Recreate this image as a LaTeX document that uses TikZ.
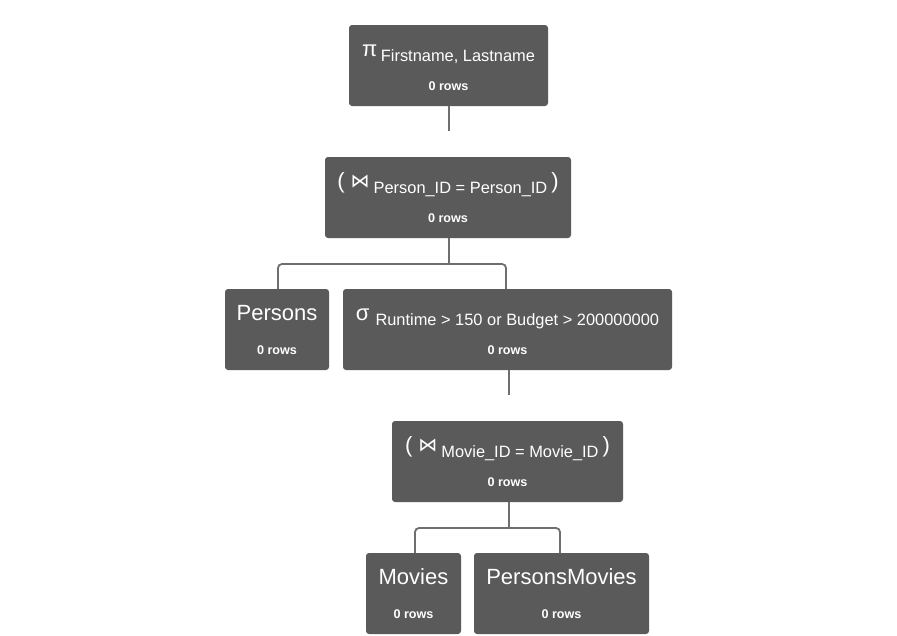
\documentclass[tikz,border=0pt]{standalone}
\usepackage{fontspec}
\setmainfont{Liberation Sans}
\newfontfamily\symfont{DejaVu Sans}
\definecolor{boxgray}{HTML}{5A5A5A}
\definecolor{linegray}{HTML}{6E6E6E}
\tikzset{
  opbox/.style={fill=boxgray, rounded corners=3pt, inner sep=0pt, minimum height=81pt},
  conn/.style={draw=linegray, line width=1.8pt},
  ttl/.style={text=white, inner sep=0pt, anchor=base, font=\fontsize{22}{22}\selectfont},
  rowtxt/.style={text=white, inner sep=0pt, anchor=base, font=\bfseries\fontsize{12.6}{13}\selectfont},
}
\newcommand\subtxt[1]{\raisebox{-5pt}{\fontsize{16.4}{16}\selectfont #1}}
\newcommand\joinsym{\raisebox{1pt}{\symfont\fontsize{19}{19}\selectfont ⋈}}
\begin{document}
\begin{tikzpicture}[x=1pt,y=-1pt]
\useasboundingbox[fill=white] (0,0) rectangle (897,635);
% projection
\node[opbox, minimum width=199pt] (proj) at (448.5,65.5) {};
\node[ttl] (projt) at (448.5,56) {π\,\subtxt{Firstname, Lastname}};
\node[rowtxt] (projr) at (448.5,90) {0 rows};
% join 1
\node[opbox, minimum width=246pt] (joina) at (448,197.5) {};
\node[ttl] (joinat) at (448,188) {(\kern6pt\joinsym\kern4pt\subtxt{Person\_ID = Person\_ID}\kern4pt)};
\node[rowtxt] (joinar) at (448,222) {0 rows};
% persons
\node[opbox, minimum width=104pt] (persons) at (277,329.5) {};
\node[ttl] (personst) at (277,320) {Persons};
\node[rowtxt] (personsr) at (277,354) {0 rows};
% selection
\node[opbox, minimum width=329pt] (sel) at (507.5,329.5) {};
\node[ttl] (selt) at (507.5,320) {σ\kern6pt\subtxt{Runtime > 150 or Budget > 200000000}};
\node[rowtxt] (selr) at (507.5,354) {0 rows};
% join 2
\node[opbox, minimum width=231pt] (joinb) at (507.5,461.5) {};
\node[ttl] (joinbt) at (507.5,452) {(\kern6pt\joinsym\kern4pt\subtxt{Movie\_ID = Movie\_ID}\kern4pt)};
\node[rowtxt] (joinbr) at (507.5,486) {0 rows};
% movies
\node[opbox, minimum width=95pt] (movies) at (413.5,593.5) {};
\node[ttl] (moviest) at (413.5,584) {Movies};
\node[rowtxt] (moviesr) at (413.5,618) {0 rows};
% persons movies
\node[opbox, minimum width=175pt] (pm) at (561.5,593.5) {};
\node[ttl] (pmt) at (561.5,584) {PersonsMovies};
\node[rowtxt] (pmr) at (561.5,618) {0 rows};
% connectors
\coordinate (projend) at (449,131);
\coordinate (selend) at (509,395);
\coordinate (forka) at (449,264);
\coordinate (forkb) at (509,528);
\draw[conn] (449,106) -- (projend);
\draw[conn] (509,370) -- (selend);
\draw[conn] (449,238) -- (forka);
\draw[conn, rounded corners=4pt] (forka) -| (278,289);
\draw[conn, rounded corners=4pt] (forka) -| (506,289);
\draw[conn] (509,502) -- (forkb);
\draw[conn, rounded corners=4pt] (forkb) -| (415,553);
\draw[conn, rounded corners=4pt] (forkb) -| (560,553);
\end{tikzpicture}
\end{document}
